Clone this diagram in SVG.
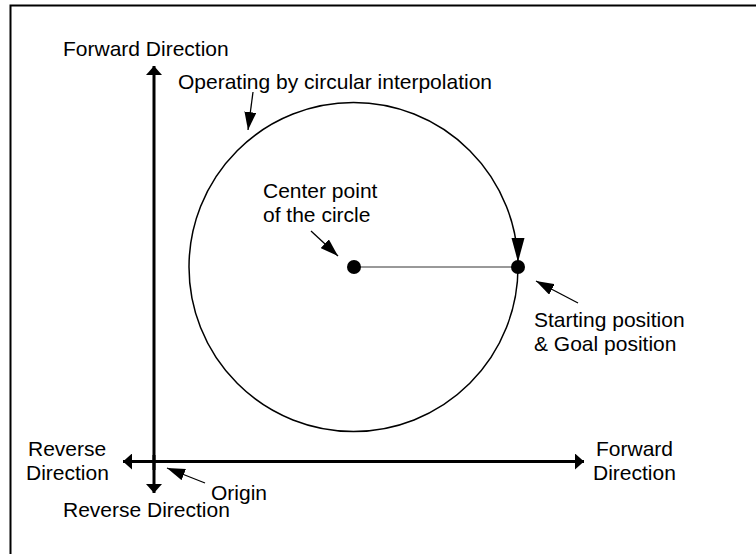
<svg xmlns="http://www.w3.org/2000/svg" width="756" height="554" viewBox="0 0 756 554">
<style>
text{font-family:"Liberation Sans",Arial,sans-serif;font-size:21px;fill:#000}
.ax{stroke:#000;stroke-width:3;fill:none}
.ln{stroke:#000;stroke-width:1.3;fill:none}
</style>
<defs>
<marker id="big" viewBox="0 0 10 10" preserveAspectRatio="none" refX="10" refY="5" markerWidth="9" markerHeight="16" markerUnits="userSpaceOnUse" orient="auto"><path d="M0,0L10,5L0,10z" fill="#000"/></marker>
<marker id="sm" viewBox="0 0 10 10" preserveAspectRatio="none" refX="10" refY="5" markerWidth="18" markerHeight="12" markerUnits="userSpaceOnUse" orient="auto"><path d="M0,0L10,5L0,10z" fill="#000"/></marker>
</defs>
<path d="M10.5,554V5.5H756" stroke="#000" stroke-width="2" fill="none"/>
<g id="connectors">
<line class="ax" x1="154" y1="470" x2="154" y2="66" marker-end="url(#big)"/>
<line class="ax" x1="154" y1="455" x2="154" y2="493" marker-end="url(#big)"/>
<line class="ax" x1="160" y1="461.5" x2="584" y2="461.5" marker-end="url(#big)"/>
<line class="ax" x1="160" y1="461.5" x2="123" y2="461.5" marker-end="url(#big)"/>
<line x1="354" y1="267" x2="518" y2="267" stroke="#333" stroke-width="1"/>
<line class="ln" x1="253" y1="92" x2="248" y2="130" marker-end="url(#sm)"/>
<line class="ln" x1="311" y1="231" x2="338" y2="256" marker-end="url(#sm)"/>
<line class="ln" x1="578" y1="303" x2="536" y2="281" marker-end="url(#sm)"/>
<line class="ln" x1="205" y1="483" x2="167" y2="468" marker-end="url(#sm)"/>
</g>
<g id="circle">
<circle cx="353.5" cy="267" r="164.5" stroke="#000" stroke-width="1.5" fill="none"/>
<path d="M516.5,238 L524.5,238 L518,262 L511.5,238z" fill="#000"/>
</g>
<g id="center"><circle cx="354" cy="267" r="7" fill="#000"/></g>
<g id="start"><circle cx="518" cy="267" r="7" fill="#000"/></g>
<g id="labels">
<text x="63" y="56">Forward Direction</text>
<text x="178" y="88.5">Operating by circular interpolation</text>
<text x="263" y="197.5">Center point</text>
<text x="263" y="221.5">of the circle</text>
<text x="534" y="327">Starting position</text>
<text x="534" y="351">&amp; Goal position</text>
<text x="28" y="456">Reverse</text>
<text x="26" y="480">Direction</text>
<text x="596" y="456">Forward</text>
<text x="593" y="480">Direction</text>
<text x="211" y="500">Origin</text>
<text x="63" y="517">Reverse Direction</text>
</g>
</svg>
